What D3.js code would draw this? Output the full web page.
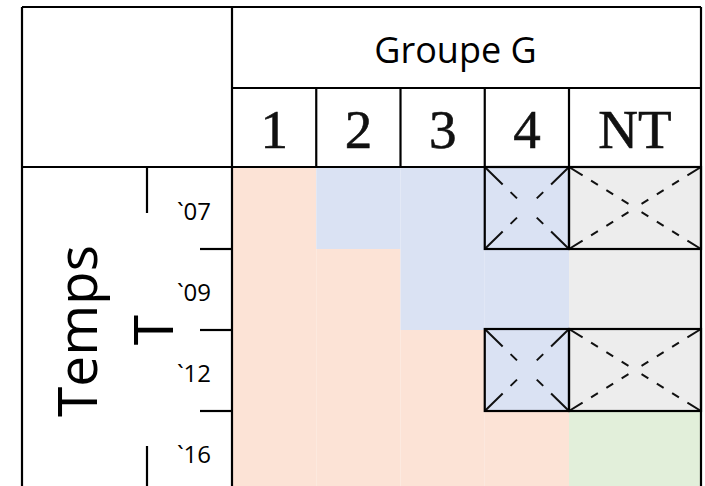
<!DOCTYPE html>
<html><head><meta charset="utf-8">
<script src="https://cdn.jsdelivr.net/npm/d3@7/dist/d3.min.js"></script>
<style>html,body{margin:0;padding:0;background:#fff;}svg{display:block;}</style>
</head><body>
<script>
// ---- data ----
const groupTitle = "Groupe G";
const axisTitle = ["Temps", "T"];
const groups = ["1", "2", "3", "4", "NT"];
const years = ["`07", "`09", "`12", "`16"];
// cell state per year (one entry per group): A = peach, B = blue, N = grey, V = green
const row07 = ["A", "B", "B", "B", "N"];
const row09 = ["A", "A", "B", "B", "N"];
const row12 = ["A", "A", "A", "B", "N"];
const row16 = ["A", "A", "A", "A", "V"];
const rows = [row07, row09, row12, row16];
// crossed-out cells: [year, group]
const crossed = [["`07", "4"], ["`07", "NT"], ["`12", "4"], ["`12", "NT"]];

(function () {
// ---- layout ----
const W = 705, H = 486;
const svg = d3.select("body").append("svg").attr("width", W).attr("height", H);
const stateColor = d3.scaleOrdinal().domain(["A", "B", "N", "V"])
  .range(["#fce3d6", "#dae2f3", "#ededed", "#e2efda"]);

const xi = d3.scaleLinear().domain([0, 4, 5]).range([232, 569, 701]);
const colIndex = d3.scaleOrdinal().domain(groups).range(d3.range(groups.length));
const x0 = g => xi(colIndex(g)), x1 = g => xi(colIndex(g) + 1);
const y = d3.scaleBand().domain(years).range([168, 492]).paddingInner(0).paddingOuter(0);

const frameL = 22, frameT = 7, midH = 88, headB = 167, labelX = 147, tickX0 = 200;

// ---- cells ----
rows.forEach((r, i) => {
  const yr = years[i];
  svg.selectAll(null).data(groups).enter().append("rect")
    .attr("x", g => x0(g)).attr("y", y(yr))
    .attr("width", g => x1(g) - x0(g)).attr("height", y.bandwidth())
    .attr("fill", (g, j) => stateColor(r[j]));
});

// ---- crossed boxes ----
const cg = svg.append("g");
crossed.forEach(([yr, g]) => {
  const ax = x0(g), bx = x1(g), ay = y(yr) - 1, by = y(yr) + y.bandwidth();
  const cx = (ax + bx) / 2, cy = (ay + by) / 2;
  const wide = (bx - ax) > 100;
  const dash = wide ? "16 10 8 10 8 10 8 10" : "25 11 9 60";
  [[ax, ay], [bx, ay], [ax, by], [bx, by]].forEach(([px, py]) => {
    cg.append("line").attr("x1", px).attr("y1", py).attr("x2", cx).attr("y2", cy)
      .attr("stroke", "#111").attr("stroke-width", 2).attr("stroke-dasharray", dash);
  });
  cg.append("rect").attr("x", ax).attr("y", ay).attr("width", bx - ax).attr("height", by - ay)
    .attr("fill", "none").attr("stroke", "#000").attr("stroke-width", 2.2);
});

// ---- grid lines ----
const lg = svg.append("g").attr("stroke", "#000").attr("stroke-width", 2.2).attr("fill", "none");
const L = (a, b, c, d) => lg.append("line").attr("x1", a).attr("y1", b).attr("x2", c).attr("y2", d);
L(frameL, frameT, xi(5), frameT);
L(frameL, frameT, frameL, H + 2);
L(xi(0), frameT, xi(0), H + 2);
L(xi(5), frameT, xi(5), H + 2);
L(xi(0), midH, xi(5), midH);
L(frameL, headB, xi(5), headB);
d3.range(1, groups.length).forEach(i => L(xi(i), midH, xi(i), headB));
// left label column
L(labelX, headB, labelX, 213);
L(labelX, 446, labelX, H + 2);
years.slice(1).forEach(yr => L(tickX0, y(yr), xi(0), y(yr)));

// ---- text ----
svg.append("text").attr("x", (xi(0) + xi(5)) / 2 - 11).attr("y", 63)
  .attr("text-anchor", "middle").attr("font-family", "Open Sans").attr("font-size", 36)
  .attr("fill", "#000").text(groupTitle);

svg.selectAll(null).data(groups).enter().append("text")
  .attr("x", g => (x0(g) + x1(g)) / 2).attr("y", 148)
  .attr("text-anchor", "middle").attr("font-family", "Liberation Serif").attr("font-size", 55)
  .attr("fill", "#111").attr("stroke", "#111").attr("stroke-width", 0.6).text(g => g);

svg.selectAll(null).data(years).enter().append("text")
  .attr("x", 211).attr("y", yr => y(yr) + y.bandwidth() / 2 + 11)
  .attr("text-anchor", "end").attr("font-family", "Open Sans").attr("font-size", 24)
  .attr("fill", "#000").text(d => d);

svg.append("text").attr("transform", "translate(97,331) rotate(-90)")
  .attr("text-anchor", "middle").attr("font-family", "Open Sans").attr("font-size", 55)
  .attr("fill", "#000").text(axisTitle[0]);
svg.append("text").attr("transform", "translate(173,330) rotate(-90)")
  .attr("text-anchor", "middle").attr("font-family", "Open Sans").attr("font-size", 55)
  .attr("fill", "#000").text(axisTitle[1]);
})();
</script>
</body></html>
